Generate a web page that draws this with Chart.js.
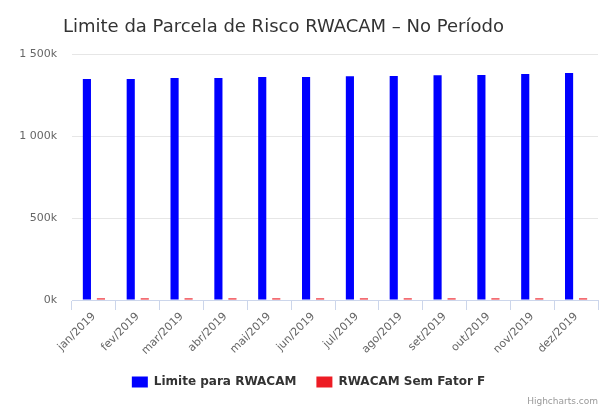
<!DOCTYPE html>
<html>
<head>
<meta charset="utf-8">
<script src="https://cdn.jsdelivr.net/npm/chart.js@4/dist/chart.umd.min.js"></script>
<style>
html,body{margin:0;padding:0;background:#fff;}
#wrap{width:608px;height:416px;position:relative;}
</style>
</head>
<body>
<div id="wrap"><canvas id="c" width="608" height="416"></canvas></div>
<script>
const categories = ["jan/2019","fev/2019","mar/2019","abr/2019","mai/2019","jun/2019","jul/2019","ago/2019","set/2019","out/2019","nov/2019","dez/2019"];
const limiteRWACAM = [1347000,1348000,1353000,1354000,1359000,1360000,1365000,1366000,1371000,1372000,1378000,1384000];
const rwacamSemFatorF = [10000,10000,10000,10000,10000,10000,10000,10000,10000,10000,10000,10000];
const yTicks = [0,500000,1000000,1500000];
const titleText = "Limite da Parcela de Risco RWACAM \u2013 No Per\u00edodo";
const creditText = "Highcharts.com";

const FONT = "'DejaVu Sans', Verdana, sans-serif";

function fmtK(v){
  const k = Math.round(v/1000);
  return String(k).replace(/\B(?=(\d{3})+(?!\d))/g, " ") + "k";
}

const textPlugin = {
  id: 'textPlugin',
  afterDraw(chart){
    const ctx = chart.ctx;
    ctx.save();
    ctx.fillStyle = '#333333';
    ctx.font = "18px " + FONT;
    ctx.textBaseline = 'alphabetic';
    ctx.textAlign = 'left';
    ctx.fillText(titleText, 63, 32);
    ctx.fillStyle = '#999999';
    ctx.font = "9px " + FONT;
    ctx.textAlign = 'right';
    ctx.fillText(creditText, 598, 404);
    ctx.restore();
  }
};

new Chart(document.getElementById('c'), {
  type: 'bar',
  data: {
    labels: categories,
    datasets: [
      {label: 'Limite para RWACAM', data: limiteRWACAM, backgroundColor: '#0000ff', borderWidth: 0,
       categoryPercentage: 0.64, barPercentage: 0.58},
      {label: 'RWACAM Sem Fator F', data: rwacamSemFatorF, backgroundColor: '#ed1c24', borderWidth: 0,
       categoryPercentage: 0.64, barPercentage: 0.58}
    ]
  },
  options: {
    responsive: false,
    animation: false,
    layout: {padding: {top: 54, right: 10, left: 19, bottom: 18}},
    plugins: {
      title: {display: false},
      tooltip: {enabled: false},
      legend: {
        position: 'bottom',
        labels: {
          boxWidth: 16, boxHeight: 11, padding: 20,
          color: '#333333',
          font: {family: FONT, size: 12, weight: 'bold'}
        }
      }
    },
    scales: {
      x: {
        grid: {drawOnChartArea: false, drawTicks: true, tickLength: 10, color: '#ccd6eb', offset: true},
        border: {color: '#ccd6eb'},
        ticks: {color: '#666666', font: {family: FONT, size: 11}, minRotation: 45, maxRotation: 45, padding: 0, autoSkip: false},
        afterFit(scale){ scale.height = 56; }
      },
      y: {
        min: 0, max: 1500000,
        grid: {color: '#e6e6e6', drawTicks: false},
        border: {display: false},
        afterBuildTicks(scale){ scale.ticks = yTicks.map(v => ({value: v})); },
        ticks: {color: '#666666', font: {family: FONT, size: 11}, padding: 15, callback: v => fmtK(v)},
        afterFit(scale){ scale.width = 53; }
      }
    }
  },
  plugins: [textPlugin]
});
</script>
</body>
</html>
